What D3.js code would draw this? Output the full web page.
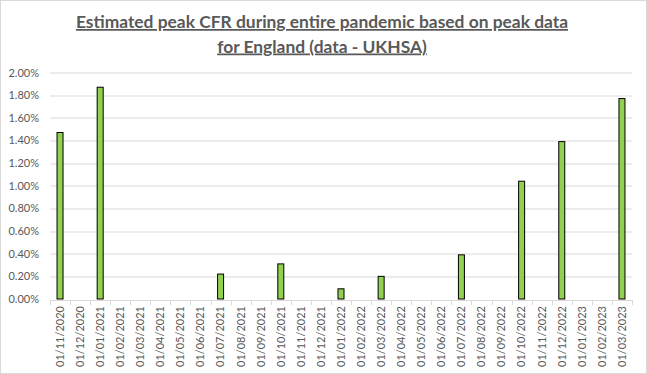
<!DOCTYPE html>
<html>
<head>
<meta charset="utf-8">
<script src="https://cdn.jsdelivr.net/npm/d3@7"></script>
<style>
  body { margin: 0; background: #fff; }
  svg { display: block; }
</style>
</head>
<body>
<svg width="647" height="374"></svg>
<script>
// months on the x axis, one value per month (CFR in %)
const months = ["01/11/2020","01/12/2020","01/01/2021","01/02/2021","01/03/2021","01/04/2021",
  "01/05/2021","01/06/2021","01/07/2021","01/08/2021","01/09/2021","01/10/2021","01/11/2021",
  "01/12/2021","01/01/2022","01/02/2022","01/03/2022","01/04/2022","01/05/2022","01/06/2022",
  "01/07/2022","01/08/2022","01/09/2022","01/10/2022","01/11/2022","01/12/2022","01/01/2023",
  "01/02/2023","01/03/2023"]
const cfr = [1.47, 0, 1.87, 0, 0, 0, 0, 0, 0.22, 0, 0, 0.31, 0, 0, 0.09, 0, 0.20, 0, 0, 0,
  0.39, 0, 0, 1.04, 0, 1.39, 0, 0, 1.77]
const yTicks = [0, 0.2, 0.4, 0.6, 0.8, 1.0, 1.2, 1.4, 1.6, 1.8, 2.0]
const titleLines = ["Estimated peak CFR during entire pandemic based on peak data",
  "for England (data - UKHSA)"]

const svg = d3.select("svg")
const width = 647, height = 374
const margin = { top: 72.5, right: 15, bottom: 75, left: 50 }
const plotW = width - margin.left - margin.right
const plotH = height - margin.top - margin.bottom
const grey = "#595959"
const font = "Lato, 'Open Sans', sans-serif"

// outer chart border
svg.append("rect")
  .attr("x", 0.5).attr("y", 0.5)
  .attr("width", width - 1).attr("height", height - 1)
  .attr("fill", "#fff").attr("stroke", "#d9d9d9")

// title
const title = svg.append("text")
  .attr("text-anchor", "middle")
  .attr("fill", grey)
  .style("font-family", font)
  .style("font-weight", "bold")
  .style("font-size", "17.4px")
  .style("text-decoration", "underline")
titleLines.forEach((t, i) => {
  title.append("tspan")
    .attr("x", 322).attr("y", 28 + i * 24.5)
    .text(t)
})

const g = svg.append("g")
  .attr("transform", `translate(${margin.left},${margin.top})`)

const x = d3.scaleBand().domain(months).range([0, plotW])
const y = d3.scaleLinear().domain([0, 2]).range([plotH, 0])

// gridlines
g.append("g").selectAll("line")
  .data(yTicks.slice(1))
  .join("line")
    .attr("x1", 0).attr("x2", plotW)
    .attr("y1", d => Math.round(y(d)) + 0.5)
    .attr("y2", d => Math.round(y(d)) + 0.5)
    .attr("stroke", "#d9d9d9")

// y axis labels
const yAxis = g.append("g")
  .call(d3.axisLeft(y).tickValues(yTicks).tickSize(0).tickPadding(11)
    .tickFormat(d => d.toFixed(2) + "%"))
yAxis.select(".domain").remove()
yAxis.selectAll("text")
  .attr("fill", grey)
  .style("font-family", font)
  .style("font-size", "11px")

// bars
g.append("g").selectAll("rect")
  .data(cfr.map((v, i) => ({ m: months[i], v })).filter(d => d.v > 0))
  .join("rect")
    .attr("x", d => x(d.m) + x.bandwidth() / 2 - 3)
    .attr("y", d => y(d.v))
    .attr("width", 6)
    .attr("height", d => plotH - y(d.v))
    .attr("fill", "#92d050")
    .attr("stroke", "#000")
    .attr("stroke-width", 1)

// x axis
const xAxisG = g.append("g")
  .attr("transform", `translate(0,${Math.round(plotH) + 0.5})`)
  .call(d3.axisBottom(x).tickSize(0).tickPadding(6))
xAxisG.select(".domain").attr("stroke", "#d9d9d9")
xAxisG.selectAll("text")
  .attr("fill", grey)
  .style("font-family", font)
  .style("font-size", "11px")
  .attr("transform", "rotate(-90)")
  .attr("text-anchor", "end")
  .attr("dx", "-6")
  .attr("dy", "0.35em")
  .attr("y", 0)
// tick marks on category boundaries
xAxisG.append("g").selectAll("line")
  .data(d3.range(months.length + 1))
  .join("line")
    .attr("x1", i => Math.round(i * x.step()) + 0.5)
    .attr("x2", i => Math.round(i * x.step()) + 0.5)
    .attr("y1", 0).attr("y2", 5)
    .attr("stroke", "#d9d9d9")
</script>
</body>
</html>
